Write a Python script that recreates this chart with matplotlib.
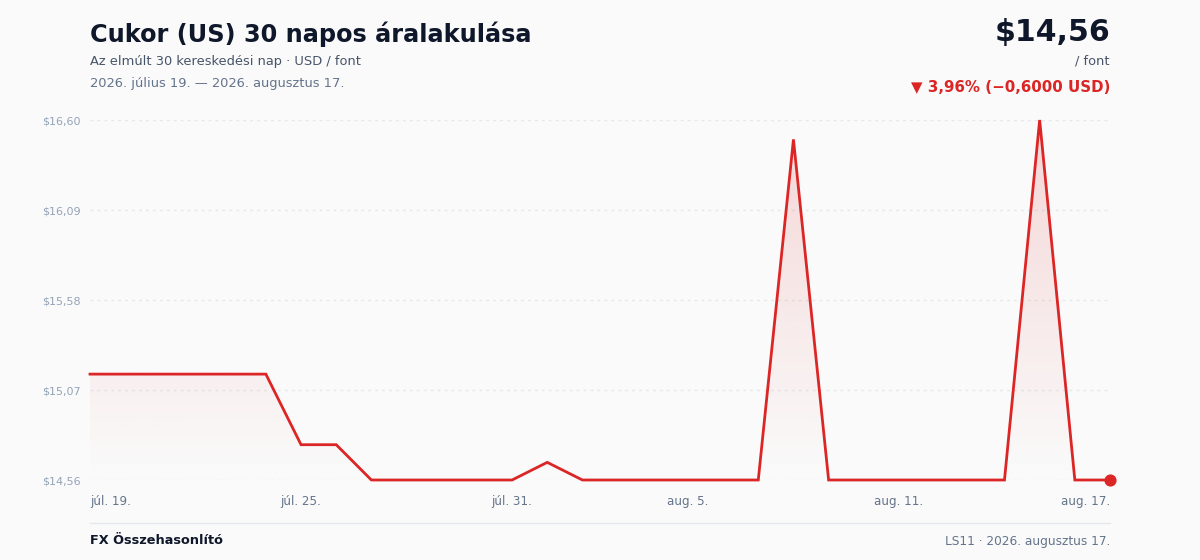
import matplotlib.pyplot as plt
import numpy as np
from matplotlib.colors import to_rgb
from matplotlib.lines import Line2D

# 30 napos adatsor (júl. 19. - aug. 17.)
days = list(range(30))
prices = [
    15.16, 15.16, 15.16, 15.16, 15.16, 15.16, 14.76, 14.76, 14.56, 14.56,
    14.56, 14.56, 14.56, 14.66, 14.56, 14.56, 14.56, 14.56, 14.56, 14.56,
    16.49, 14.56, 14.56, 14.56, 14.56, 14.56, 14.56, 16.60, 14.56, 14.56,
]
tick_days = [0, 6, 12, 17, 23, 29]
tick_labels = ["júl. 19.", "júl. 25.", "júl. 31.", "aug. 5.", "aug. 11.", "aug. 17."]
y_ticks = [14.56, 15.07, 15.58, 16.09, 16.60]
y_labels = ["$14,56", "$15,07", "$15,58", "$16,09", "$16,60"]

RED = "#dc2626"
BG = "#fafafa"

plt.rcParams["font.family"] = ["DejaVu Sans"]

fig = plt.figure(figsize=(12, 5.6), dpi=100, facecolor=BG)
ax = fig.add_axes([0.075, 1 - 480 / 560, 0.85, 360 / 560])
ax.set_facecolor(BG)

ymin, ymax = y_ticks[0], y_ticks[-1]
ax.set_xlim(days[0], days[-1])
ax.set_ylim(ymin, ymax)

# gradient fill under the line
poly = ax.fill_between(days, prices, ymin, color="none", lw=0)
rgb = to_rgb(RED)
grad = np.zeros((256, 1, 4))
grad[:, 0, :3] = rgb
grad[:, 0, 3] = np.linspace(0.17, 0.0, 256)
img = ax.imshow(grad, extent=[days[0], days[-1], ymin, ymax], aspect="auto",
                origin="upper", zorder=1)
img.set_clip_path(poly.get_paths()[0], transform=ax.transData)

ax.plot(days, prices, color=RED, lw=2, zorder=3, clip_on=False,
        solid_joinstyle="miter")
ax.scatter([days[-1]], [prices[-1]], s=60, color=RED, zorder=4, clip_on=False)

for yt in y_ticks:
    ax.axhline(yt, color="#e5e7eb", lw=1, ls=(0, (2, 3)), zorder=0)

ax.set_yticks(y_ticks)
ax.set_yticklabels(y_labels, fontsize=8, color="#94a3b8")
ax.set_xticks(tick_days)
ax.set_xticklabels(tick_labels, fontsize=8.6, color="#64748b")
xl = ax.get_xticklabels()
xl[0].set_ha("left")
xl[-1].set_ha("right")
ax.tick_params(axis="both", length=0)
ax.tick_params(axis="y", pad=7)
ax.tick_params(axis="x", pad=11)
for s in ax.spines.values():
    s.set_visible(False)

# header
fig.text(90 / 1200, 1 - 34 / 560, "Cukor (US) 30 napos áralakulása",
         fontsize=17.3, fontweight="bold", color="#0f172a", va="center")
fig.text(90 / 1200, 1 - 61 / 560, "Az elmúlt 30 kereskedési nap · USD / font",
         fontsize=9.4, color="#475569", va="center")
fig.text(90 / 1200, 1 - 83 / 560, "2026. július 19. — 2026. augusztus 17.",
         fontsize=9.4, color="#64748b", va="center")
fig.text(1110 / 1200, 1 - 32 / 560, "$14,56", fontsize=21.6, fontweight="bold",
         color="#0f172a", va="center", ha="right")
fig.text(1110 / 1200, 1 - 61 / 560, "/ font", fontsize=9.4, color="#475569",
         va="center", ha="right")
fig.text(1110 / 1200, 1 - 87 / 560, "▼ 3,96% (−0,6000 USD)", fontsize=10.8,
         fontweight="bold", color=RED, va="center", ha="right")

# footer
fig.add_artist(Line2D([90 / 1200, 1110 / 1200], [1 - 523 / 560, 1 - 523 / 560],
                      color="#e5e7eb", lw=1, transform=fig.transFigure))
fig.text(90 / 1200, 1 - 541 / 560, "FX Összehasonlító", fontsize=9.3,
         fontweight="bold", color="#0f172a", va="center")
fig.text(1110 / 1200, 1 - 541 / 560, "LS11 · 2026. augusztus 17.", fontsize=8.7,
         color="#64748b", va="center", ha="right")

fig.savefig("out.png", dpi=100, facecolor=BG)
